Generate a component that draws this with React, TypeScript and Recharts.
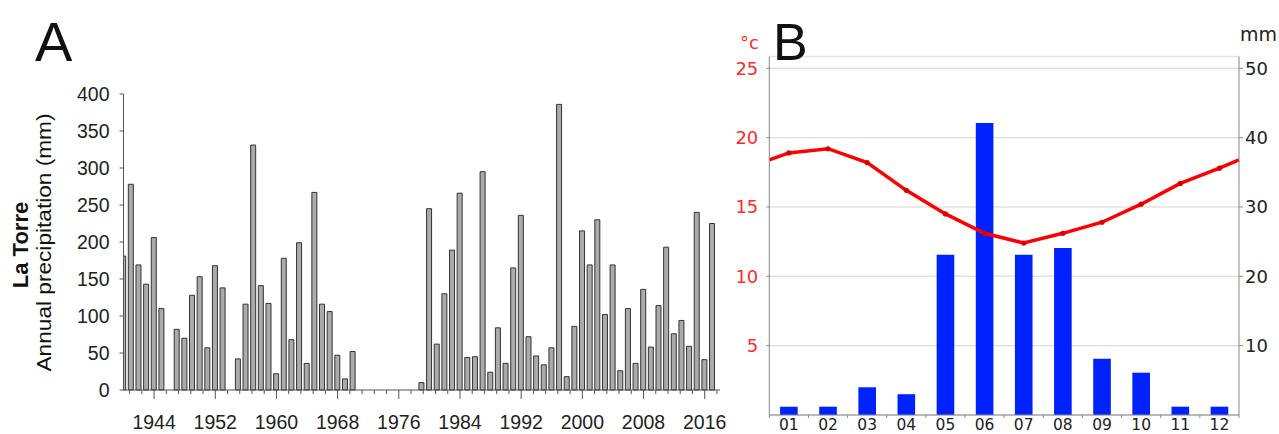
// Panel A: annual precipitation at La Torre; panel B: monthly climograph
import { BarChart, Bar, XAxis, YAxis, ComposedChart, Line, CartesianGrid } from 'recharts';

// ---- Panel A data ----
const years = [
  1940, 1941, 1942, 1943, 1944, 1945,
  1947, 1948, 1949, 1950, 1951, 1952, 1953,
  1955, 1956, 1957, 1958, 1959, 1960, 1961, 1962, 1963, 1964, 1965, 1966, 1967, 1968, 1969, 1970,
  1979, 1980, 1981, 1982, 1983, 1984, 1985, 1986, 1987, 1988, 1989, 1990, 1991, 1992, 1993, 1994,
  1995, 1996, 1997, 1998, 1999, 2000, 2001, 2002, 2003, 2004, 2005, 2006, 2007, 2008, 2009, 2010,
  2011, 2012, 2013, 2014, 2015, 2016, 2017,
];
const precipitation = [
  181, 278, 169, 143, 206, 110,
  82, 70, 128, 153, 57, 168, 138,
  42, 116, 331, 141, 117, 22, 178, 68, 199, 36, 267, 116, 106, 47, 15, 52,
  10, 245, 62, 130, 189, 266, 44, 45, 295, 24, 84, 36, 165, 236, 72, 46,
  34, 57, 386, 18, 86, 215, 169, 230, 102, 169, 26, 110, 36, 136, 58, 114,
  193, 76, 94, 59, 240, 41, 225,
];
const yearLabels = [1944, 1952, 1960, 1968, 1976, 1984, 1992, 2000, 2008, 2016];
const precipTicks = [0, 50, 100, 150, 200, 250, 300, 350, 400];
// tick marks every 1.6 years, as on the original axis
const yearTicks = Array.from({ length: 49 }, (_, i) => Math.round((1940.8 + i * 1.6) * 10) / 10);

// ---- Panel B data ----
const months = ['01', '02', '03', '04', '05', '06', '07', '08', '09', '10', '11', '12'];
const temperature = [18.9, 19.2, 18.2, 16.2, 14.5, 13.1, 12.4, 13.1, 13.9, 15.2, 16.7, 17.8];
const rainfall = [1.2, 1.2, 4, 3, 23.1, 42.1, 23.1, 24.1, 8.1, 6.1, 1.2, 1.2];
const edgeTemperature = 18.4; // where the curve meets both side axes
const tempTicks = [5, 10, 15, 20, 25];
const mmTicks = [10, 20, 30, 40, 50];

const dataA = years.map((y, i) => ({ year: y, p: precipitation[i] }));
const dataB = [
  { m: 0.5, t: edgeTemperature },
  ...months.map((label, i) => ({ m: i + 1, label, t: temperature[i], mm: rainfall[i] })),
  { m: 12.5, t: edgeTemperature },
];
const monthTicks = [0.5, ...months.flatMap((_, i) => [i + 1, i + 1.5])];

const ARIAL = '"Liberation Sans", Arial, sans-serif';
const VERDANA = '"DejaVu Sans", Verdana, sans-serif';

function YearTick(props: any) {
  const { x, y, payload } = props;
  const major = yearLabels.includes(payload.value);
  return (
    <g>
      <line x1={x} x2={x} y1={y} y2={y + (major ? 9 : 4)} stroke="#555" strokeWidth={1} />
      {major && (
        <text x={x} y={y + 39} textAnchor="middle" fontSize={19.5} fontFamily={ARIAL} fill="#222">
          {payload.value}
        </text>
      )}
    </g>
  );
}

function MonthTick(props: any) {
  const { x, y, payload } = props;
  const v = payload.value;
  if (!Number.isInteger(v)) {
    return <line x1={x} x2={x} y1={y} y2={y + 3} stroke="#888" strokeWidth={1} />;
  }
  return (
    <text x={x} y={y + 14.5} textAnchor="middle" fontSize={15.5} fontFamily={VERDANA} fill="#222">
      {months[v - 1]}
    </text>
  );
}

export default function App() {
  return (
    <div style={{ position: 'absolute', left: 0, top: 0, width: 1279, height: 434, background: '#fff' }}>
      <div style={{ position: 'absolute', left: 0, top: 0 }}>
        <BarChart width={730} height={434} data={dataA} margin={{ top: 94, right: 10, bottom: 0, left: 63.5 }}>
          <XAxis
            dataKey="year"
            type="number"
            domain={[1940, 2018]}
            allowDataOverflow
            ticks={yearTicks}
            interval={0}
            tickSize={0}
            tickMargin={0}
            tickLine={false}
            height={44}
            axisLine={{ stroke: '#555' }}
            tick={(p: any) => <YearTick {...p} />}
          />
          <YAxis
            domain={[0, 400]}
            ticks={precipTicks}
            interval={0}
            width={60}
            tickSize={4}
            tickMargin={10}
            axisLine={{ stroke: '#555' }}
            tickLine={{ stroke: '#555' }}
            tick={{ fontSize: 19.5, fontFamily: ARIAL, fill: '#222' }}
          />
          <Bar dataKey="p" barSize={5} fill="#ababab" stroke="#333" strokeWidth={1} isAnimationActive={false} />
        </BarChart>
      </div>

      <div style={{ position: 'absolute', left: 720, top: 0 }}>
        <ComposedChart width={559} height={434} data={dataB} margin={{ top: 56.5, right: 0, bottom: 0, left: 9.3 }}>
          <CartesianGrid vertical={false} yAxisId="t" stroke="#e2e2e2" strokeWidth={1.5} />
          <XAxis
            dataKey="m"
            type="number"
            domain={[0.5, 12.5]}
            ticks={monthTicks}
            interval={0}
            tickSize={0}
            tickMargin={0}
            tickLine={false}
            height={19}
            axisLine={{ stroke: '#888' }}
            tick={(p: any) => <MonthTick {...p} />}
          />
          <YAxis
            yAxisId="t"
            orientation="left"
            domain={[0, 25.85]}
            allowDataOverflow
            ticks={tempTicks}
            interval={0}
            width={40}
            tickSize={3}
            tickMargin={8}
            axisLine={{ stroke: '#888' }}
            tickLine={{ stroke: '#888' }}
            tick={{ fontSize: 18, fontFamily: VERDANA, fill: '#ff2a2a' }}
          />
          <YAxis
            yAxisId="mm"
            orientation="right"
            domain={[0, 51.7]}
            allowDataOverflow
            ticks={mmTicks}
            interval={0}
            width={40}
            tickSize={4}
            tickMargin={2}
            axisLine={{ stroke: '#888' }}
            tickLine={{ stroke: '#888' }}
            tick={{ fontSize: 18, fontFamily: VERDANA, fill: '#222' }}
          />
          <Bar yAxisId="mm" dataKey="mm" barSize={20} fill="#0022ff" isAnimationActive={false} />
          <Line
            yAxisId="t"
            dataKey="t"
            type="linear"
            stroke="#ff0000"
            strokeWidth={3.5}
            dot={(p: any) =>
              Number.isInteger(p.payload.m) ? (
                <circle key={`d${p.index}`} cx={p.cx} cy={p.cy} r={2.6} fill="#d80000" />
              ) : (
                <g key={`d${p.index}`} />
              )
            }
            activeDot={false}
            isAnimationActive={false}
          />
        </ComposedChart>
      </div>

      {/* panel letters and axis titles */}
      <svg width={1279} height={434} style={{ position: 'absolute', left: 0, top: 0, pointerEvents: 'none' }}>
        <text x={35} y={61} fontSize={56} fontFamily={ARIAL} fill="#111">A</text>
        <text x={773} y={60} fontSize={52} fontFamily={ARIAL} fill="#111">B</text>
        <text transform="translate(28,245) rotate(-90)" textAnchor="middle" fontSize={22} fontWeight="bold" fontFamily={ARIAL} fill="#111">
          La Torre
        </text>
        <text
          transform="translate(50.5,242.5) rotate(-90)"
          textAnchor="middle"
          fontSize={21}
          fontFamily={ARIAL}
          fill="#111"
          textLength={258}
          lengthAdjust="spacingAndGlyphs"
        >
          Annual precipitation (mm)
        </text>
        <text x={740} y={49} fontSize={18} fontFamily={VERDANA} fill="#ff2a2a">°c</text>
        <text x={1240} y={41} fontSize={19} fontFamily={VERDANA} fill="#222">mm</text>
      </svg>
    </div>
  );
}
